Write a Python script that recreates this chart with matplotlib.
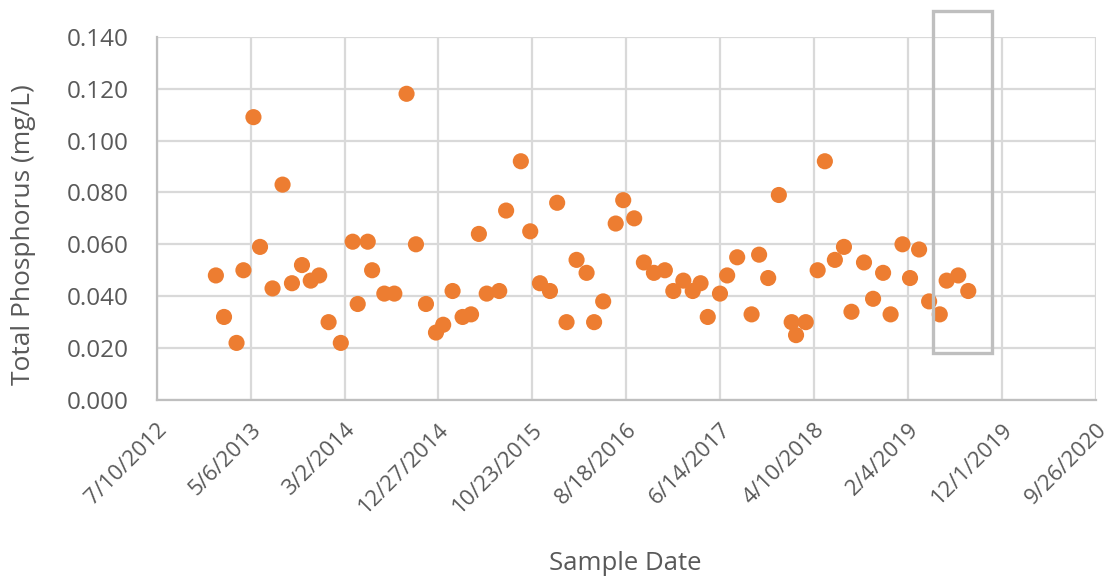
import matplotlib
matplotlib.use("Agg")
import matplotlib.pyplot as plt
import matplotlib.dates as mdates
import matplotlib.transforms as mtransforms
from matplotlib.ticker import FormatStrFormatter, MultipleLocator
from matplotlib.patches import Rectangle
from datetime import datetime

# ---- data ----
sample_dates = [
    "2013-01-15", "2013-02-10", "2013-03-22", "2013-04-13", "2013-05-15", "2013-06-05",
    "2013-07-15", "2013-08-16", "2013-09-15", "2013-10-17", "2013-11-14", "2013-12-11",
    "2014-01-10", "2014-02-18", "2014-03-28", "2014-04-13", "2014-05-15", "2014-05-29",
    "2014-07-07", "2014-08-08", "2014-09-16", "2014-10-16", "2014-11-17", "2014-12-19",
    "2015-01-11", "2015-02-10", "2015-03-14", "2015-04-10", "2015-05-05", "2015-05-30",
    "2015-07-09", "2015-07-31", "2015-09-16", "2015-10-16", "2015-11-16", "2015-12-18",
    "2016-01-10", "2016-02-09", "2016-03-12", "2016-04-13", "2016-05-07", "2016-06-05",
    "2016-07-15", "2016-08-08", "2016-09-12", "2016-10-13", "2016-11-14", "2016-12-19",
    "2017-01-15", "2017-02-16", "2017-03-18", "2017-04-12", "2017-05-05", "2017-06-13",
    "2017-07-06", "2017-08-07", "2017-09-22", "2017-10-16", "2017-11-14", "2017-12-18",
    "2018-01-28", "2018-02-11", "2018-03-14", "2018-04-21", "2018-05-14", "2018-06-15",
    "2018-07-14", "2018-08-07", "2018-09-16", "2018-10-15", "2018-11-16", "2018-12-10",
    "2019-01-17", "2019-02-10", "2019-03-11", "2019-04-12", "2019-05-16", "2019-06-07",
    "2019-07-14", "2019-08-15",
]
total_phosphorus = [
    0.048, 0.032, 0.022, 0.050, 0.109, 0.059,
    0.043, 0.083, 0.045, 0.052, 0.046, 0.048,
    0.030, 0.022, 0.061, 0.037, 0.061, 0.050,
    0.041, 0.041, 0.118, 0.060, 0.037, 0.026,
    0.029, 0.042, 0.032, 0.033, 0.064, 0.041,
    0.042, 0.073, 0.092, 0.065, 0.045, 0.042,
    0.076, 0.030, 0.054, 0.049, 0.030, 0.038,
    0.068, 0.077, 0.070, 0.053, 0.049, 0.050,
    0.042, 0.046, 0.042, 0.045, 0.032, 0.041,
    0.048, 0.055, 0.033, 0.056, 0.047, 0.079,
    0.030, 0.025, 0.030, 0.050, 0.092, 0.054,
    0.059, 0.034, 0.053, 0.039, 0.049, 0.033,
    0.060, 0.047, 0.058, 0.038, 0.033, 0.046,
    0.048, 0.042,
]
x_tick_labels = ["7/10/2012", "5/6/2013", "3/2/2014", "12/27/2014", "10/23/2015",
                 "8/18/2016", "6/14/2017", "4/10/2018", "2/4/2019", "12/1/2019", "9/26/2020"]
highlight_start = "2019-04-24"
highlight_end = "2019-10-29"
highlight_low, highlight_high = 0.0181, 0.150

# ---- figure ----
plt.rcParams['font.family'] = ['Open Sans', 'DejaVu Sans']
text_color = "#595959"
grid_color = "#d9d9d9"

fig = plt.figure(figsize=(11.05, 5.79), dpi=100)
ax = fig.add_axes([156.7 / 1105, 1 - 400 / 579, (1096 - 156.7) / 1105, (400 - 36.7) / 579])

dates = [datetime.strptime(d, "%Y-%m-%d") for d in sample_dates]
ax.scatter(dates, total_phosphorus, s=135, color="#ED7D31", edgecolors="none", zorder=3)

tick_dates = [datetime.strptime(t, "%m/%d/%Y") for t in x_tick_labels]
ax.set_xlim(tick_dates[0], tick_dates[-1])
ax.set_xticks(tick_dates)
ax.set_xticklabels(x_tick_labels, rotation=45, ha="right", va="top",
                   rotation_mode="anchor", fontsize=16, color=text_color)
shift = mtransforms.ScaledTranslation(-3 / 72, 0, fig.dpi_scale_trans)
for lbl in ax.get_xticklabels():
    lbl.set_transform(lbl.get_transform() + shift)

ax.set_ylim(0, 0.14)
ax.yaxis.set_major_locator(MultipleLocator(0.02))
ax.yaxis.set_major_formatter(FormatStrFormatter("%.3f"))
for lbl in ax.get_yticklabels():
    lbl.set_fontsize(17.5)
    lbl.set_color(text_color)

ax.grid(True, color=grid_color, linewidth=1.6, zorder=0)
ax.set_axisbelow(True)
ax.tick_params(length=0)
ax.tick_params(axis="x", pad=14)
ax.tick_params(axis="y", pad=20)
for side in ["top", "right"]:
    ax.spines[side].set_visible(False)
for side in ["left", "bottom"]:
    ax.spines[side].set_color("#bfbfbf")
    ax.spines[side].set_linewidth(1.6)

ax.set_ylabel("Total Phosphorus (mg/L)", fontsize=19, color=text_color)
ax.yaxis.set_label_coords(-0.1285, 0.454)
ax.set_xlabel("Sample Date", fontsize=18.5, color=text_color)
ax.xaxis.set_label_coords(0.4986, -0.415)

x0 = mdates.date2num(datetime.strptime(highlight_start, "%Y-%m-%d"))
x1 = mdates.date2num(datetime.strptime(highlight_end, "%Y-%m-%d"))
rect = Rectangle((x0, highlight_low), x1 - x0, highlight_high - highlight_low,
                 fill=False, edgecolor="#bfbfbf", linewidth=2.4, clip_on=False, zorder=4)
ax.add_patch(rect)

fig.savefig("out.png", dpi=100)
